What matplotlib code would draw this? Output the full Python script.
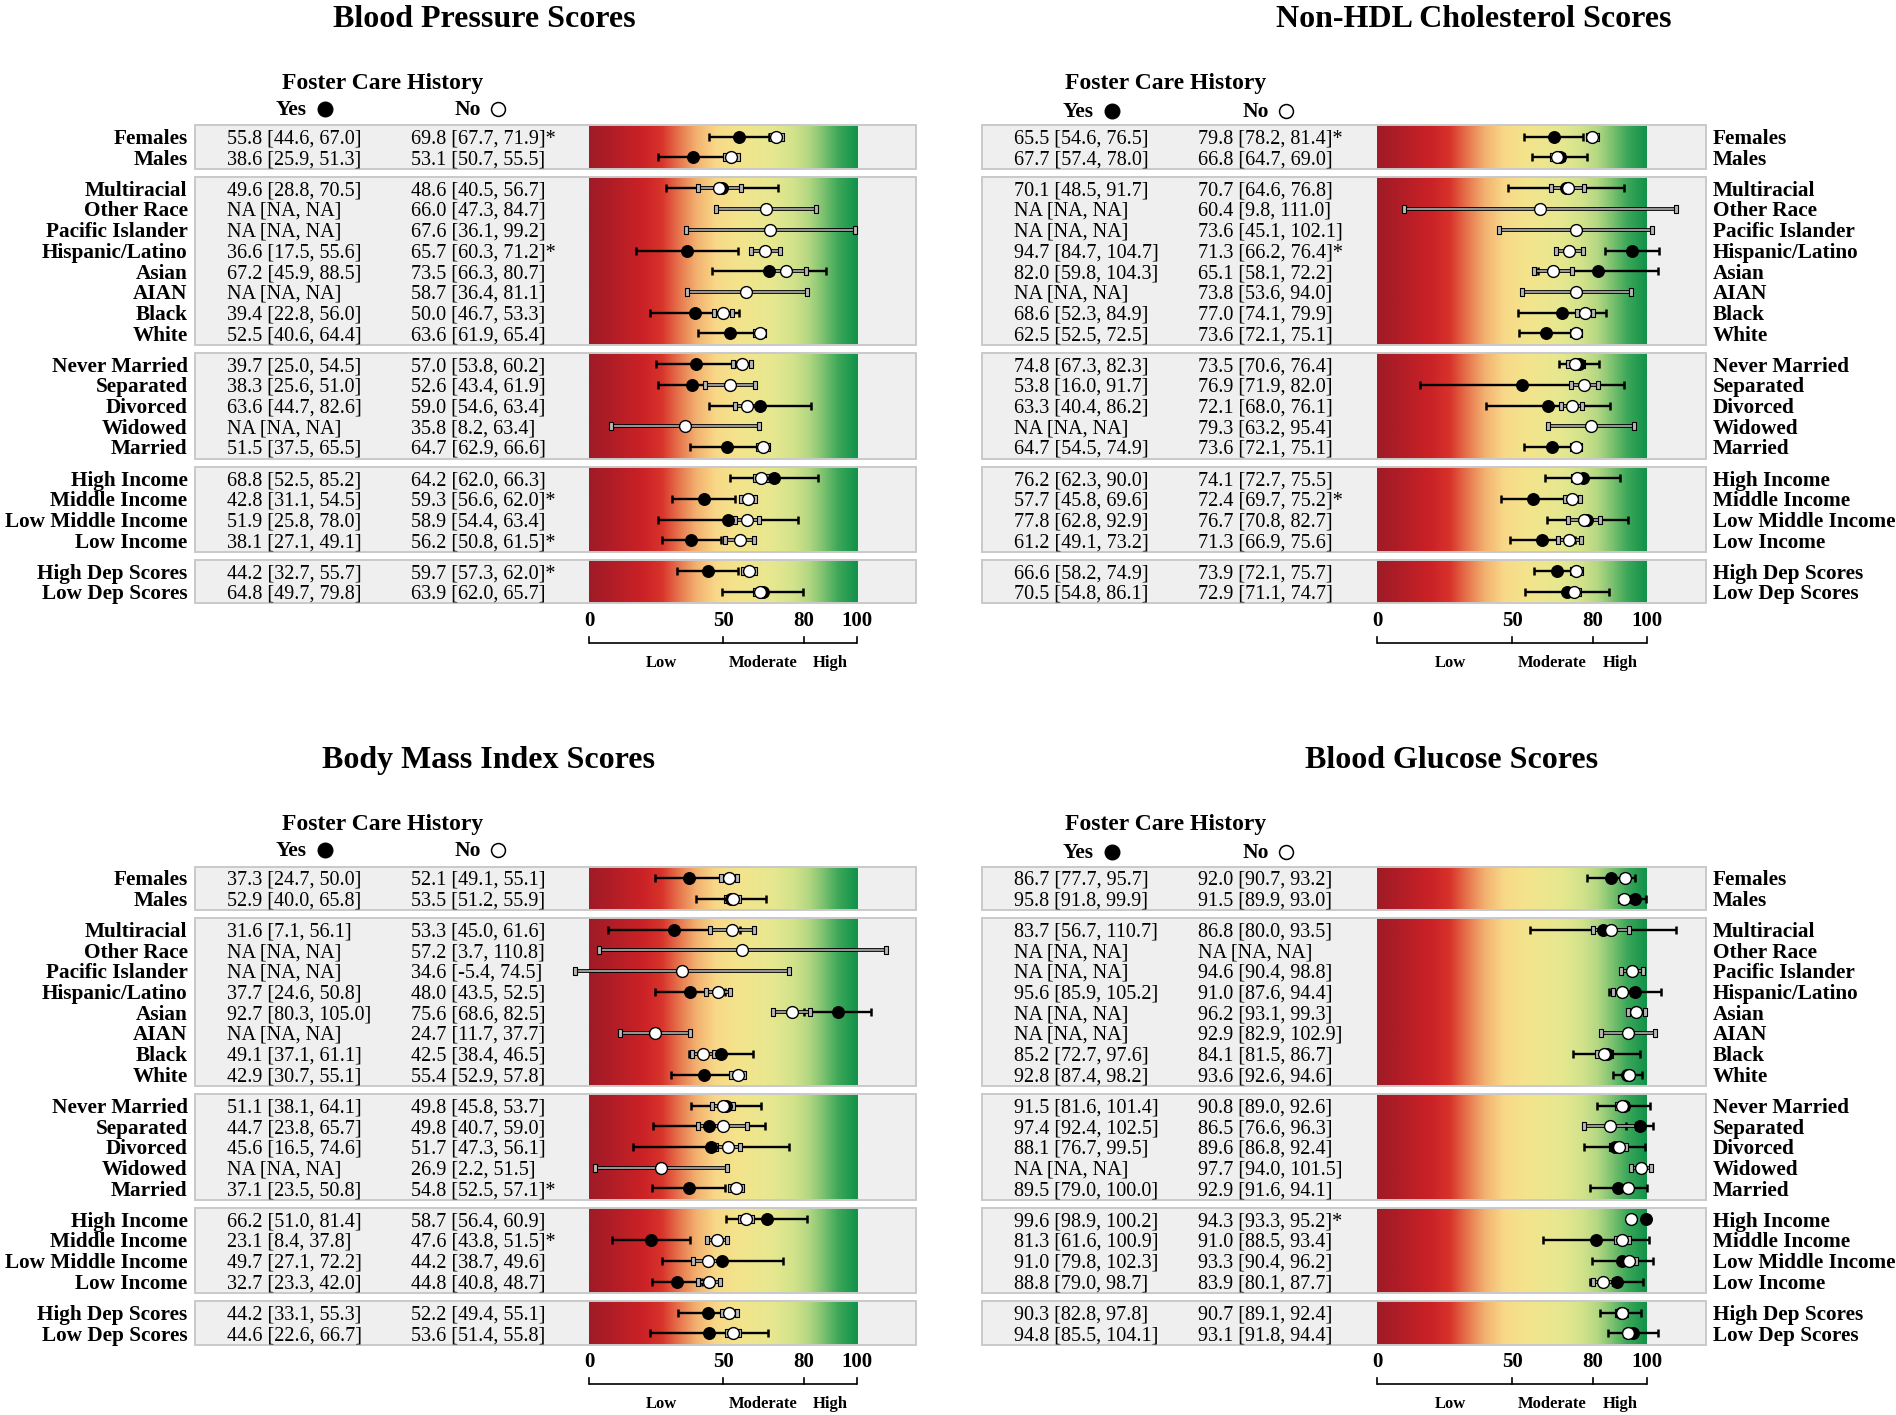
import numpy as np
import matplotlib
matplotlib.use('Agg')
import matplotlib.pyplot as plt
from matplotlib.colors import LinearSegmentedColormap
from matplotlib.patches import Rectangle
from matplotlib.path import Path
import matplotlib.patheffects as pe

plt.rcParams['font.family'] = ['Liberation Serif', 'DejaVu Serif']

NA = np.nan

categories = ["Females", "Males",
              "Multiracial", "Other Race", "Pacific Islander", "Hispanic/Latino",
              "Asian", "AIAN", "Black", "White",
              "Never Married", "Separated", "Divorced", "Widowed", "Married",
              "High Income", "Middle Income", "Low Middle Income", "Low Income",
              "High Dep Scores", "Low Dep Scores"]
group_sizes = [2, 8, 5, 4, 2]

# ---- Blood Pressure ----
bp_yes = [55.8, 38.6, 49.6, NA, NA, 36.6, 67.2, NA, 39.4, 52.5,
          39.7, 38.3, 63.6, NA, 51.5, 68.8, 42.8, 51.9, 38.1, 44.2, 64.8]
bp_yes_lo = [44.6, 25.9, 28.8, NA, NA, 17.5, 45.9, NA, 22.8, 40.6,
             25.0, 25.6, 44.7, NA, 37.5, 52.5, 31.1, 25.8, 27.1, 32.7, 49.7]
bp_yes_hi = [67.0, 51.3, 70.5, NA, NA, 55.6, 88.5, NA, 56.0, 64.4,
             54.5, 51.0, 82.6, NA, 65.5, 85.2, 54.5, 78.0, 49.1, 55.7, 79.8]
bp_no = [69.8, 53.1, 48.6, 66.0, 67.6, 65.7, 73.5, 58.7, 50.0, 63.6,
         57.0, 52.6, 59.0, 35.8, 64.7, 64.2, 59.3, 58.9, 56.2, 59.7, 63.9]
bp_no_lo = [67.7, 50.7, 40.5, 47.3, 36.1, 60.3, 66.3, 36.4, 46.7, 61.9,
            53.8, 43.4, 54.6, 8.2, 62.9, 62.0, 56.6, 54.4, 50.8, 57.3, 62.0]
bp_no_hi = [71.9, 55.5, 56.7, 84.7, 99.2, 71.2, 80.7, 81.1, 53.3, 65.4,
            60.2, 61.9, 63.4, 63.4, 66.6, 66.3, 62.0, 63.4, 61.5, 62.0, 65.7]
bp_sig = [1, 0, 0, 0, 0, 1, 0, 0, 0, 0, 0, 0, 0, 0, 0, 0, 1, 0, 1, 1, 0]

# ---- Non-HDL Cholesterol ----
ch_yes = [65.5, 67.7, 70.1, NA, NA, 94.7, 82.0, NA, 68.6, 62.5,
          74.8, 53.8, 63.3, NA, 64.7, 76.2, 57.7, 77.8, 61.2, 66.6, 70.5]
ch_yes_lo = [54.6, 57.4, 48.5, NA, NA, 84.7, 59.8, NA, 52.3, 52.5,
             67.3, 16.0, 40.4, NA, 54.5, 62.3, 45.8, 62.8, 49.1, 58.2, 54.8]
ch_yes_hi = [76.5, 78.0, 91.7, NA, NA, 104.7, 104.3, NA, 84.9, 72.5,
             82.3, 91.7, 86.2, NA, 74.9, 90.0, 69.6, 92.9, 73.2, 74.9, 86.1]
ch_no = [79.8, 66.8, 70.7, 60.4, 73.6, 71.3, 65.1, 73.8, 77.0, 73.6,
         73.5, 76.9, 72.1, 79.3, 73.6, 74.1, 72.4, 76.7, 71.3, 73.9, 72.9]
ch_no_lo = [78.2, 64.7, 64.6, 9.8, 45.1, 66.2, 58.1, 53.6, 74.1, 72.1,
            70.6, 71.9, 68.0, 63.2, 72.1, 72.7, 69.7, 70.8, 66.9, 72.1, 71.1]
ch_no_hi = [81.4, 69.0, 76.8, 111.0, 102.1, 76.4, 72.2, 94.0, 79.9, 75.1,
            76.4, 82.0, 76.1, 95.4, 75.1, 75.5, 75.2, 82.7, 75.6, 75.7, 74.7]
ch_sig = [1, 0, 0, 0, 0, 1, 0, 0, 0, 0, 0, 0, 0, 0, 0, 0, 1, 0, 0, 0, 0]

# ---- Body Mass Index ----
bm_yes = [37.3, 52.9, 31.6, NA, NA, 37.7, 92.7, NA, 49.1, 42.9,
          51.1, 44.7, 45.6, NA, 37.1, 66.2, 23.1, 49.7, 32.7, 44.2, 44.6]
bm_yes_lo = [24.7, 40.0, 7.1, NA, NA, 24.6, 80.3, NA, 37.1, 30.7,
             38.1, 23.8, 16.5, NA, 23.5, 51.0, 8.4, 27.1, 23.3, 33.1, 22.6]
bm_yes_hi = [50.0, 65.8, 56.1, NA, NA, 50.8, 105.0, NA, 61.1, 55.1,
             64.1, 65.7, 74.6, NA, 50.8, 81.4, 37.8, 72.2, 42.0, 55.3, 66.7]
bm_no = [52.1, 53.5, 53.3, 57.2, 34.6, 48.0, 75.6, 24.7, 42.5, 55.4,
         49.8, 49.8, 51.7, 26.9, 54.8, 58.7, 47.6, 44.2, 44.8, 52.2, 53.6]
bm_no_lo = [49.1, 51.2, 45.0, 3.7, -5.4, 43.5, 68.6, 11.7, 38.4, 52.9,
            45.8, 40.7, 47.3, 2.2, 52.5, 56.4, 43.8, 38.7, 40.8, 49.4, 51.4]
bm_no_hi = [55.1, 55.9, 61.6, 110.8, 74.5, 52.5, 82.5, 37.7, 46.5, 57.8,
            53.7, 59.0, 56.1, 51.5, 57.1, 60.9, 51.5, 49.6, 48.7, 55.1, 55.8]
bm_sig = [0, 0, 0, 0, 0, 0, 0, 0, 0, 0, 0, 0, 0, 0, 1, 0, 1, 0, 0, 0, 0]

# ---- Blood Glucose ----
gl_yes = [86.7, 95.8, 83.7, NA, NA, 95.6, NA, NA, 85.2, 92.8,
          91.5, 97.4, 88.1, NA, 89.5, 99.6, 81.3, 91.0, 88.8, 90.3, 94.8]
gl_yes_lo = [77.7, 91.8, 56.7, NA, NA, 85.9, NA, NA, 72.7, 87.4,
             81.6, 92.4, 76.7, NA, 79.0, 98.9, 61.6, 79.8, 79.0, 82.8, 85.5]
gl_yes_hi = [95.7, 99.9, 110.7, NA, NA, 105.2, NA, NA, 97.6, 98.2,
             101.4, 102.5, 99.5, NA, 100.0, 100.2, 100.9, 102.3, 98.7, 97.8, 104.1]
gl_no = [92.0, 91.5, 86.8, NA, 94.6, 91.0, 96.2, 92.9, 84.1, 93.6,
         90.8, 86.5, 89.6, 97.7, 92.9, 94.3, 91.0, 93.3, 83.9, 90.7, 93.1]
gl_no_lo = [90.7, 89.9, 80.0, NA, 90.4, 87.6, 93.1, 82.9, 81.5, 92.6,
            89.0, 76.6, 86.8, 94.0, 91.6, 93.3, 88.5, 90.4, 80.1, 89.1, 91.8]
gl_no_hi = [93.2, 93.0, 93.5, NA, 98.8, 94.4, 99.3, 102.9, 86.7, 94.6,
            92.6, 96.3, 92.4, 101.5, 94.1, 95.2, 93.4, 96.2, 87.7, 92.4, 94.4]
gl_sig = [0, 0, 0, 0, 0, 0, 0, 0, 0, 0, 0, 0, 0, 0, 0, 1, 0, 0, 0, 0, 0]

scale_ticks = [0, 50, 80, 100]
band_labels = ["Low", "Moderate", "High"]
band_centers = [27, 65, 90]

grad_stops = [(0.00, '#9f1b26'), (0.08, '#b01d26'), (0.20, '#cb2227'),
              (0.27, '#d8332b'), (0.33, '#e6714b'), (0.40, '#f3b270'),
              (0.47, '#f8d888'), (0.55, '#f4e48c'), (0.68, '#e7e890'),
              (0.76, '#d3e38b'), (0.82, '#b3d782'), (0.87, '#80c371'),
              (0.93, '#3ca759'), (1.00, '#12924a')]
cmap = LinearSegmentedColormap.from_list('score', grad_stops)

W, H = 1896, 1415
fig = plt.figure(figsize=(W / 100, H / 100), dpi=100)
ROW = 20.7
YTOP, YBOT = -6.4, 25.9
XL, XR = -147, 122
DY = 0.11  # text baseline nudge

row_y = []
pos = 0.0
group_bounds = []
for gs in group_sizes:
    first = pos
    for k in range(gs):
        row_y.append(pos)
        pos += 1
    group_bounds.append((first - 0.55, pos - 1 + 0.55))
    pos += 0.5

cap_path = Path([(-0.2, -0.5), (0.2, -0.5), (0.2, 0.5), (-0.2, 0.5), (-0.2, -0.5)],
                [Path.MOVETO, Path.LINETO, Path.LINETO, Path.LINETO, Path.CLOSEPOLY])


def fmt(e, lo, hi):
    if np.isnan(e):
        return "NA [NA, NA]"
    return f"{e:.1f} [{lo:.1f}, {hi:.1f}]"


def panel(x0px, unit, row0px, title, title_x, hdr_x, yn_y, side,
          yes, yes_lo, yes_hi, no, no_lo, no_hi, sig):
    left = x0px + unit * XL
    width = unit * (XR - XL)
    top = row0px + ROW * YTOP
    height = ROW * (YBOT - YTOP)
    ax = fig.add_axes([left / W, 1 - (top + height) / H, width / W, height / H])
    ax.axis('off')

    grad = np.linspace(0, 1, 600)[None, :]
    for (gt, gb) in group_bounds:
        ax.add_patch(Rectangle((XL, gt), XR - XL, gb - gt, facecolor='#efefef',
                               edgecolor='none', zorder=0.5, clip_on=False))
        ax.imshow(grad, cmap=cmap, extent=[0, 100, gb, gt], aspect='auto',
                  interpolation='bilinear', zorder=1)
        ax.add_patch(Rectangle((XL, gt), XR - XL, gb - gt, facecolor='none',
                               edgecolor='#c9c9c9', lw=1.4, zorder=1.5, clip_on=False))

    for i, y in enumerate(row_y):
        if side == 'left':
            ax.text(-149.6, y + DY, categories[i], ha='right', va='center',
                    fontsize=15.3, fontweight='bold', clip_on=False)
        else:
            ax.text(124.5, y + DY, categories[i], ha='left', va='center',
                    fontsize=15.3, fontweight='bold', clip_on=False)
        ax.text(-134.8, y + DY, fmt(yes[i], yes_lo[i], yes_hi[i]), ha='left', va='center',
                fontsize=14.5, zorder=3)
        ax.text(-66.5, y + DY, fmt(no[i], no_lo[i], no_hi[i]) + ("*" if sig[i] else ""),
                ha='left', va='center', fontsize=14.5, zorder=3)
        if not np.isnan(yes[i]):
            ax.plot([yes_lo[i], yes_hi[i]], [y, y], color='black', lw=1.7,
                    solid_capstyle='butt', zorder=3, clip_on=False)
            ax.plot([yes_lo[i], yes_hi[i]], [y, y], ls='none', marker='|', ms=5.5,
                    mew=1.8, color='black', zorder=3, clip_on=False)
        if not np.isnan(no[i]):
            ax.plot([no_lo[i], no_hi[i]], [y, y], color='#a5a5a5', lw=1.3,
                    solid_capstyle='butt', zorder=4, clip_on=False,
                    path_effects=[pe.Stroke(linewidth=2.7, foreground='black'), pe.Normal()])
            ax.plot([no_lo[i], no_hi[i]], [y, y], ls='none', marker=cap_path, ms=6,
                    mfc='#b8b8b8', mec='black', mew=0.8, zorder=4.2, clip_on=False)
    for i, y in enumerate(row_y):
        if not np.isnan(yes[i]):
            ax.plot([yes[i]], [y], marker='o', ms=8.5, mfc='black', mec='black',
                    mew=0.8, zorder=5, clip_on=False)
        if not np.isnan(no[i]):
            ax.plot([no[i]], [y], marker='o', ms=8.5, mfc='white', mec='black',
                    mew=1.0, zorder=6, clip_on=False)

    # headers
    ax.text(title_x, -5.78 + DY, title, ha='center', va='center', fontsize=23,
            fontweight='bold', clip_on=False)
    ax.text(hdr_x, -2.69 + DY, "Foster Care History", ha='center', va='center',
            fontsize=17, fontweight='bold', clip_on=False)
    ax.text(-111, yn_y + DY, "Yes", ha='center', va='center', fontsize=15.5,
            fontweight='bold', clip_on=False)
    ax.plot([-98.5], [yn_y + 0.05], marker='o', ms=10.5, mfc='black', mec='black',
            clip_on=False)
    ax.text(-45, yn_y + DY, "No", ha='center', va='center', fontsize=15.5,
            fontweight='bold', clip_on=False)
    ax.plot([-34], [yn_y + 0.05], marker='o', ms=10, mfc='white', mec='black',
            mew=1.1, clip_on=False)

    # score scale
    for t in scale_ticks:
        ax.text(t, 23.3 + DY, str(t), ha='center', va='center', fontsize=15,
                fontweight='bold', clip_on=False)
    ax.plot([scale_ticks[0], scale_ticks[-1]], [24.45, 24.45], color='black', lw=1.2,
            clip_on=False, solid_capstyle='butt')
    for t in scale_ticks:
        ax.plot([t, t], [24.45, 24.15], color='black', lw=1.2, clip_on=False)
    for lab, c in zip(band_labels, band_centers):
        ax.text(c, 25.3 + DY, lab, ha='center', va='center', fontsize=12,
                fontweight='bold', clip_on=False)

    ax.set_xlim(XL, XR)
    ax.set_ylim(YBOT, YTOP)
    return ax


LX0, LU = 589.0, 2.683
RX0, RU = 1377.4, 2.693
TOP0, BOT0 = 136.7, 877.9

panel(LX0, LU, TOP0, "Blood Pressure Scores", -39.2, -77.0, -1.41, 'left',
      bp_yes, bp_yes_lo, bp_yes_hi, bp_no, bp_no_lo, bp_no_hi, bp_sig)
panel(RX0, RU, TOP0, "Non-HDL Cholesterol Scores", 35.9, -78.5, -1.29, 'right',
      ch_yes, ch_yes_lo, ch_yes_hi, ch_no, ch_no_lo, ch_no_hi, ch_sig)
panel(LX0, LU, BOT0, "Body Mass Index Scores", -37.5, -77.0, -1.41, 'left',
      bm_yes, bm_yes_lo, bm_yes_hi, bm_no, bm_no_lo, bm_no_hi, bm_sig)
panel(RX0, RU, BOT0, "Blood Glucose Scores", 27.7, -78.5, -1.29, 'right',
      gl_yes, gl_yes_lo, gl_yes_hi, gl_no, gl_no_lo, gl_no_hi, gl_sig)

fig.savefig('out.png', dpi=100)
